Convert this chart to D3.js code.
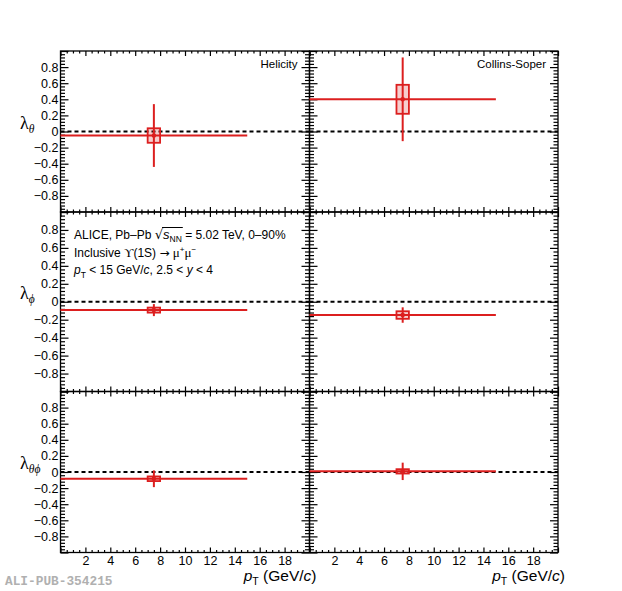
<!DOCTYPE html>
<html>
<head>
<meta charset="utf-8">
<script src="https://cdn.jsdelivr.net/npm/d3@7"></script>
<style>
  body { margin: 0; background: #fff; }
  svg { display: block; font-family: "Liberation Sans", Arial, sans-serif; }
</style>
</head>
<body>
<svg width="622" height="591"></svg>
<script>
// reference frames (columns) and parameters (rows)
const FRAMES = ["Helicity", "Collins-Soper"];
const PARAM_SUBS = ["θ", "ϕ", "θϕ"];

// single pT bin
const PT_BIN = [0, 15];
const PT_CENTER = 7.5;
const SYST_HALF_WIDTH = 0.5;

// values per row: lambda_theta, lambda_phi, lambda_thetaphi
const LAMBDA_HX = [-0.05, -0.093, -0.084];
const STAT_HX = [0.39, 0.067, 0.104];
const SYST_HX = [0.09, 0.028, 0.029];

const LAMBDA_CS = [0.40, -0.148, 0.008];
const STAT_CS = [0.52, 0.086, 0.108];
const SYST_CS = [0.18, 0.042, 0.027];

const Y_LABELS = [-0.8, -0.6, -0.4, -0.2, 0, 0.2, 0.4, 0.6, 0.8];
const X_LABELS = [2, 4, 6, 8, 10, 12, 14, 16, 18];

const COL_EDGES = [60.5, 309.5, 558];
const ROW_EDGES = [51, 212, 391.5, 552.5];
const RED = "#dc1f1f";

const svg = d3.select("svg");

const SERIES = [
  { lambda: LAMBDA_HX, stat: STAT_HX, syst: SYST_HX },
  { lambda: LAMBDA_CS, stat: STAT_CS, syst: SYST_CS }
];

const fmtY = d => d === 0 ? "0" : d3.format(".1f")(d);

for (let c = 0; c < 2; c++) {
  for (let r = 0; r < 3; r++) {
    const x = d3.scaleLinear().domain([0, 20]).range([COL_EDGES[c], COL_EDGES[c + 1]]);
    const y = d3.scaleLinear().domain([-1, 1]).range([ROW_EDGES[r + 1], ROW_EDGES[r]]);
    const g = svg.append("g");
    const [x0, x1] = x.range();
    const [y1, y0] = y.range();

    const xMajor = d3.range(0, 21, 2);
    const xMinor = d3.range(0, 20.01, 0.5).filter(v => v % 2 !== 0);
    const yMajor = d3.range(-10, 11, 2).map(v => v / 10);
    const yMinor = d3.range(-50, 51, 2).map(v => v / 50).filter(v => Math.round(v * 50) % 10 !== 0);

    const tickAxis = (axisFn, scale, values, size, tr) => {
      const a = g.append("g").attr("transform", tr)
        .call(axisFn(scale).tickValues(values).tickSize(size).tickSizeOuter(0).tickFormat(""));
      a.select(".domain").remove();
      a.selectAll("line").attr("stroke", "#000").attr("stroke-width", 1.2);
    };
    // ticks pointing inward on all four sides
    tickAxis(d3.axisLeft, y, yMajor, -8, `translate(${x0},0)`);
    tickAxis(d3.axisLeft, y, yMinor, -4.5, `translate(${x0},0)`);
    tickAxis(d3.axisRight, y, yMajor, -8, `translate(${x1},0)`);
    tickAxis(d3.axisRight, y, yMinor, -4.5, `translate(${x1},0)`);
    tickAxis(d3.axisBottom, x, xMajor, -5, `translate(0,${y1})`);
    tickAxis(d3.axisBottom, x, xMinor, -2.5, `translate(0,${y1})`);
    tickAxis(d3.axisTop, x, xMajor, -5, `translate(0,${y0})`);
    tickAxis(d3.axisTop, x, xMinor, -2.5, `translate(0,${y0})`);

    g.append("rect")
      .attr("x", x0).attr("y", y0).attr("width", x1 - x0).attr("height", y1 - y0)
      .attr("fill", "none").attr("stroke", "#000").attr("stroke-width", 1.3);

    if (c === 0) {
      const ya = g.append("g").attr("transform", `translate(${x0},0)`)
        .call(d3.axisLeft(y).tickValues(Y_LABELS).tickSize(0).tickPadding(2).tickFormat(fmtY));
      ya.select(".domain").remove();
      ya.selectAll("text").attr("font-size", 12.5).attr("fill", "#000")
        .attr("font-family", "Liberation Sans, Arial, sans-serif");
    }
    if (r === 2) {
      const xa = g.append("g").attr("transform", `translate(0,${y1})`)
        .call(d3.axisBottom(x).tickValues(X_LABELS).tickSize(0).tickPadding(4));
      xa.select(".domain").remove();
      xa.selectAll("text").attr("font-size", 12.5).attr("fill", "#000")
        .attr("font-family", "Liberation Sans, Arial, sans-serif");
    }

    // zero line
    g.append("line")
      .attr("x1", x0).attr("x2", x1).attr("y1", y(0)).attr("y2", y(0))
      .attr("stroke", "#000").attr("stroke-width", 2).attr("stroke-dasharray", "4,3");

    // data point
    const s = SERIES[c];
    const v = s.lambda[r], st = s.stat[r], sy = s.syst[r];
    g.append("rect")
      .attr("x", x(PT_CENTER - SYST_HALF_WIDTH)).attr("y", y(v + sy))
      .attr("width", x(PT_CENTER + SYST_HALF_WIDTH) - x(PT_CENTER - SYST_HALF_WIDTH))
      .attr("height", y(v - sy) - y(v + sy))
      .attr("fill", "rgba(220,31,31,0.22)").attr("stroke", RED).attr("stroke-width", 1.8);
    g.append("line")
      .attr("x1", x(PT_BIN[0])).attr("x2", x(PT_BIN[1])).attr("y1", y(v)).attr("y2", y(v))
      .attr("stroke", RED).attr("stroke-width", 2);
    g.append("line")
      .attr("x1", x(PT_CENTER)).attr("x2", x(PT_CENTER)).attr("y1", y(v + st)).attr("y2", y(v - st))
      .attr("stroke", RED).attr("stroke-width", 2);
    g.append("circle")
      .attr("cx", x(PT_CENTER)).attr("cy", y(v)).attr("r", 2.3).attr("fill", RED);

    // frame name
    if (r === 0) {
      g.append("text").attr("x", x1 - 12).attr("y", y0 + 17)
        .attr("text-anchor", "end").attr("font-size", 11.5).text(FRAMES[c]);
    }
    // x title
    if (r === 2) {
      const t = g.append("text").attr("x", x1 + 7).attr("y", 581)
        .attr("text-anchor", "end").attr("font-size", 15.5);
      t.append("tspan").attr("font-style", "italic").text("p");
      t.append("tspan").attr("font-size", 10.5).attr("dy", 4).text("T");
      t.append("tspan").attr("dy", -4).text(" (GeV/");
      t.append("tspan").attr("font-style", "italic").text("c");
      t.append("tspan").text(")");
    }
    // y title
    if (c === 0) {
      const yt = g.append("text").attr("x", 20).attr("y", y(0) - 3)
        .attr("font-family", "Liberation Serif, serif").attr("font-size", 18);
      yt.append("tspan").text("λ");
      yt.append("tspan").attr("font-size", 11.5).attr("font-style", "italic")
        .attr("dy", 4).text(PARAM_SUBS[r]);
    }
  }
}

// legend text in middle-left panel
const leg = svg.append("g").attr("font-size", 12);
const l1 = leg.append("text").attr("x", 74).attr("y", 238.5);
l1.append("tspan").text("ALICE, Pb–Pb ");
l1.append("tspan").attr("font-family", "DejaVu Sans, sans-serif").attr("font-size", 13).text("√");
const sTs = l1.append("tspan").attr("font-style", "italic").attr("font-size", 13).text("s");
const nnTs = l1.append("tspan").attr("font-size", 8.5).attr("dy", 3).text("NN");
l1.append("tspan").attr("dy", -3).text(" = 5.02 TeV, 0–90%");
const b1 = sTs.node().getBBox(), b2 = nnTs.node().getBBox();
leg.append("line")
  .attr("x1", b1.x - 1).attr("x2", b2.x + b2.width + 1)
  .attr("y1", b1.y + 1).attr("y2", b1.y + 1)
  .attr("stroke", "#000").attr("stroke-width", 1);

const l2 = leg.append("text").attr("x", 74).attr("y", 256.5);
l2.append("tspan").text("Inclusive ");
l2.append("tspan").attr("font-family", "Liberation Serif, serif").attr("font-size", 13).text("ϒ");
l2.append("tspan").text("(1S) ");
l2.append("tspan").attr("font-family", "DejaVu Sans, sans-serif").attr("font-size", 12).text("→");
l2.append("tspan").text(" ");
l2.append("tspan").attr("font-family", "Liberation Serif, serif").attr("font-size", 13).text("μ");
l2.append("tspan").attr("font-size", 8).attr("dy", -5).text("+");
l2.append("tspan").attr("font-family", "Liberation Serif, serif").attr("font-size", 13).attr("dy", 5).text("μ");
l2.append("tspan").attr("font-size", 8).attr("dy", -5).text("−");

const l3 = leg.append("text").attr("x", 74).attr("y", 274);
l3.append("tspan").attr("font-style", "italic").text("p");
l3.append("tspan").attr("font-size", 8.5).attr("dy", 4).text("T");
l3.append("tspan").attr("dy", -4).text(" < 15 GeV/");
l3.append("tspan").attr("font-style", "italic").text("c");
l3.append("tspan").text(", 2.5 < ");
l3.append("tspan").attr("font-style", "italic").text("y");
l3.append("tspan").text(" < 4");

// publication tag
svg.append("text").attr("x", 5).attr("y", 585)
  .attr("font-family", "Liberation Mono, monospace").attr("font-weight", "bold")
  .attr("font-size", 12.8).attr("fill", "#b0b0b0").text("ALI-PUB-354215");
</script>
</body>
</html>
